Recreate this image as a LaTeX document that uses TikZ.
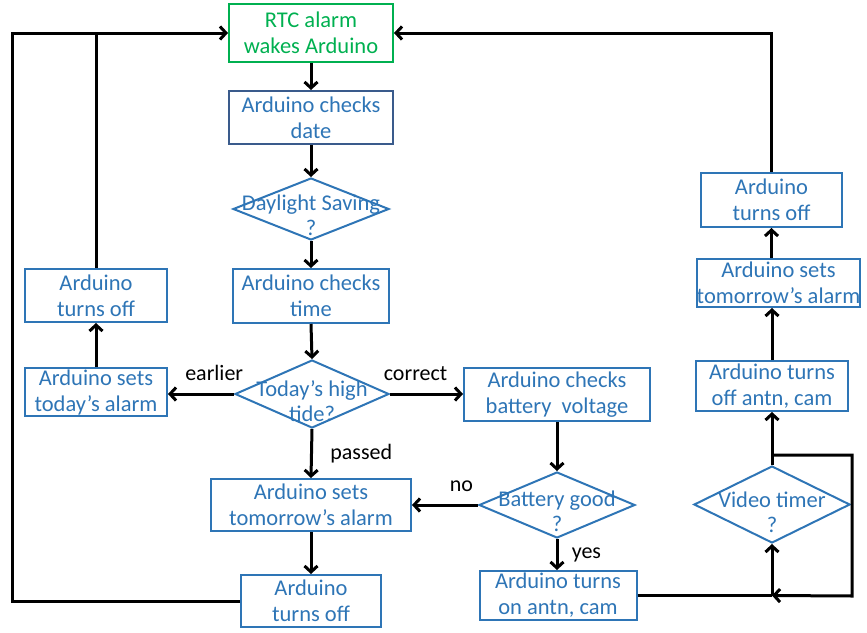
\documentclass[tikz,border=0pt]{standalone}
\usepackage{fontspec}
\setmainfont{Carlito}
\usetikzlibrary{arrows.meta,shapes.geometric}
\definecolor{bblue}{HTML}{2E75B6}
\definecolor{dblue}{HTML}{3A5B8C}
\definecolor{ggreen}{HTML}{00B050}
\begin{document}
\begin{tikzpicture}[x=1pt,y=-1pt,
  box/.style={draw=bblue, line width=2pt, text=bblue, align=center, inner sep=0pt, font=\fontsize{22.5}{26}\selectfont},
  dia/.style={draw=bblue, line width=2pt, shape=diamond, inner sep=0pt},
  dtext/.style={text=bblue, align=center, font=\fontsize{22.5}{25}\selectfont},
  lab/.style={text=black, font=\fontsize{22}{24}\selectfont},
  conn/.style={line width=3pt},
  arr/.style={line width=3pt, -{Straight Barb[length=6pt,width=13pt]}}]
\useasboundingbox (0,0) rectangle (867,632);
% nodes
\node[box, draw=ggreen, text=ggreen, minimum width=164pt, minimum height=58pt] (rtc) at (311,33) {RTC alarm\\wakes Arduino};
\node[box, draw=dblue, minimum width=164pt, minimum height=53pt] (date) at (311,117.5) {Arduino checks\\date};
\node[dia, minimum width=156pt, minimum height=62pt] (ds) at (311,209) {};
\node[dtext] (dst) at (311,215) {Daylight Saving\\?};
\node[box, minimum width=156pt, minimum height=54pt] (time) at (311,296) {Arduino checks\\time};
\node[dia, minimum width=154pt, minimum height=68pt] (tide) at (312,394) {};
\node[dtext] (tidet) at (312,401) {Today’s high\\tide?};
\node[box, minimum width=142pt, minimum height=48pt] (today) at (96,392) {Arduino sets\\today’s alarm};
\node[box, minimum width=142pt, minimum height=53pt] (loff) at (96,295.5) {Arduino\\turns off};
\node[box, minimum width=200pt, minimum height=52pt] (tom) at (311,505) {Arduino sets\\tomorrow’s alarm};
\node[box, minimum width=140pt, minimum height=52pt] (boff) at (311,601) {Arduino\\turns off};
\node[box, minimum width=186pt, minimum height=53pt] (bv) at (557,394.5) {Arduino checks\\battery\ \ voltage};
\node[dia, minimum width=156pt, minimum height=66pt] (bg) at (557,505) {};
\node[dtext] (bgt) at (557,511) {Battery good\\?};
\node[box, minimum width=157pt, minimum height=49pt] (ron) at (558,595.5) {Arduino turns\\on antn, cam};
\node[dia, minimum width=156pt, minimum height=77pt] (vt) at (772,504.5) {};
\node[dtext] (vtt) at (772,512) {Video timer\\?};
\node[box, minimum width=152pt, minimum height=50pt] (roff) at (772,386) {Arduino turns\\off antn, cam};
\node[box, minimum width=157pt, minimum height=48pt] (rsets) at (778.5,283) {Arduino sets\\tomorrow’s alarm};
\node[box, minimum width=141pt, minimum height=54pt] (rtoff) at (771.5,200) {Arduino\\turns off};
% main column
\draw[arr] (rtc.south) -- (date.north);
\draw[arr] (date.south) -- (ds.north);
\draw[arr] (ds.south) -- (time.north);
\draw[arr] (time.south) -- (tide.north);
\draw[arr] (tide.west) -- node[lab, above=9pt, pos=0.3] {earlier} (tide.west -| today.east);
\draw[arr] (tide.east) -- node[lab, above=9pt, pos=0.35] {correct} (tide.east -| bv.west);
\draw[arr] (tide.south) -- node[lab, right=14pt] {passed} (tom.north);
\draw[arr] (tom.south) -- (boff.north);
% left loop
\draw[arr] (today.north) -- (loff.south);
\draw[conn] (loff.north) -- (loff.north |- rtc.west);
\coordinate (lx) at (12,33);
\draw[arr] (boff.west) -| (lx) -- (rtc.west);
% battery branch
\draw[arr] (bv.south) -- (bg.north);
\draw[arr] (bg.west) -- node[lab, above=9pt, pos=0.25] {no} (bg.west -| tom.east);
\draw[arr] (bg.south) -- node[lab, right=10pt] {yes} (bg.south |- ron.north);
% video timer loop
\coordinate (vj) at (ron.east -| vt.south);
\coordinate (va) at (773,455);
\coordinate (vb) at (852,596);
\draw[conn] (ron.east) -- (vj);
\draw[arr] (va) -| (vb) -- (vj);
\draw[arr] (vj) -- (vt.south);
\draw[arr] (vt.north) -- (roff.south);
\draw[arr] (roff.north) -- (roff.north |- rsets.south);
\draw[arr] (rsets.north -| rtoff.south) -- (rtoff.south);
\draw[arr] (rtoff.north) |- (rtc.east);
\end{tikzpicture}
\end{document}
